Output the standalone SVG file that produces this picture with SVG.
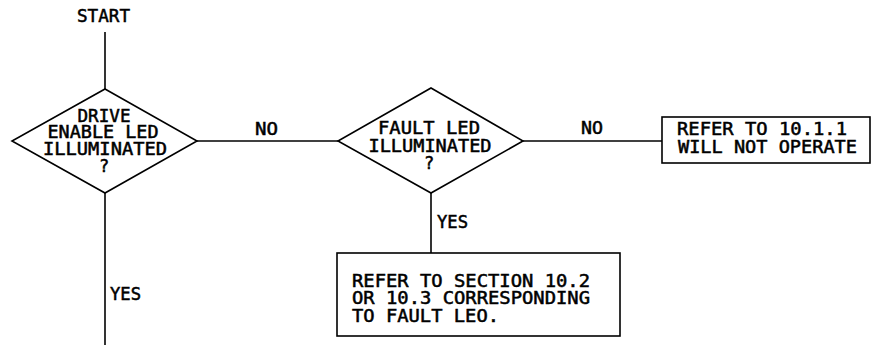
<svg xmlns="http://www.w3.org/2000/svg" width="871" height="345" viewBox="0 0 871 345">
<style>
.ln{stroke:#000;stroke-width:1.6;fill:none}
.sh{stroke:#000;stroke-width:1.6;fill:#fff}
text{font-family:"DejaVu Sans Mono","Liberation Mono",monospace;font-size:17px;fill:#000;stroke:#000;stroke-width:0.5}
.c{text-anchor:middle}
</style>
<rect width="871" height="345" fill="#fff"/>
<g id="connectors">
<line class="ln" x1="105" y1="32" x2="105" y2="89"/>
<line class="ln" x1="105" y1="193" x2="105" y2="345"/>
<line class="ln" x1="197" y1="141" x2="338" y2="141"/>
<line class="ln" x1="523" y1="141" x2="662" y2="141"/>
<line class="ln" x1="431" y1="193" x2="431" y2="253"/>
<text x="255" y="135" textLength="23" lengthAdjust="spacingAndGlyphs">NO</text>
<text x="581" y="134" textLength="22" lengthAdjust="spacingAndGlyphs">NO</text>
<text x="110" y="300" textLength="31" lengthAdjust="spacingAndGlyphs">YES</text>
<text x="437" y="228" textLength="31" lengthAdjust="spacingAndGlyphs">YES</text>
</g>
<g id="start">
<text x="77" y="22" textLength="53" lengthAdjust="spacingAndGlyphs" stroke-width="0.9">START</text>
</g>
<g id="decision1">
<polygon class="sh" points="105,89 197,141 105,193 12,141"/>
<text class="c" x="104" y="122" textLength="53" lengthAdjust="spacingAndGlyphs">DRIVE</text>
<text class="c" x="103" y="138" textLength="111" lengthAdjust="spacingAndGlyphs">ENABLE LED</text>
<text class="c" x="105" y="155" textLength="124" lengthAdjust="spacingAndGlyphs">ILLUMINATED</text>
<text class="c" x="104" y="172">?</text>
</g>
<g id="decision2">
<polygon class="sh" points="431,88 523,141 431,193 338,141"/>
<text class="c" x="429" y="134" textLength="102" lengthAdjust="spacingAndGlyphs">FAULT LED</text>
<text class="c" x="430" y="152" textLength="123" lengthAdjust="spacingAndGlyphs">ILLUMINATED</text>
<text class="c" x="429" y="169">?</text>
</g>
<g id="box1">
<rect class="sh" x="662" y="117" width="208" height="46"/>
<text x="677" y="135" textLength="170" lengthAdjust="spacingAndGlyphs">REFER TO 10.1.1</text>
<text x="678" y="153" textLength="179" lengthAdjust="spacingAndGlyphs">WILL NOT OPERATE</text>
</g>
<g id="box2">
<rect class="sh" x="337" y="253" width="283" height="83"/>
<text x="352" y="287" textLength="238" lengthAdjust="spacingAndGlyphs">REFER TO SECTION 10.2</text>
<text x="352" y="304" textLength="238" lengthAdjust="spacingAndGlyphs">OR 10.3 CORRESPONDING</text>
<text x="352" y="322" textLength="147" lengthAdjust="spacingAndGlyphs">TO FAULT LEO.</text>
</g>
</svg>
